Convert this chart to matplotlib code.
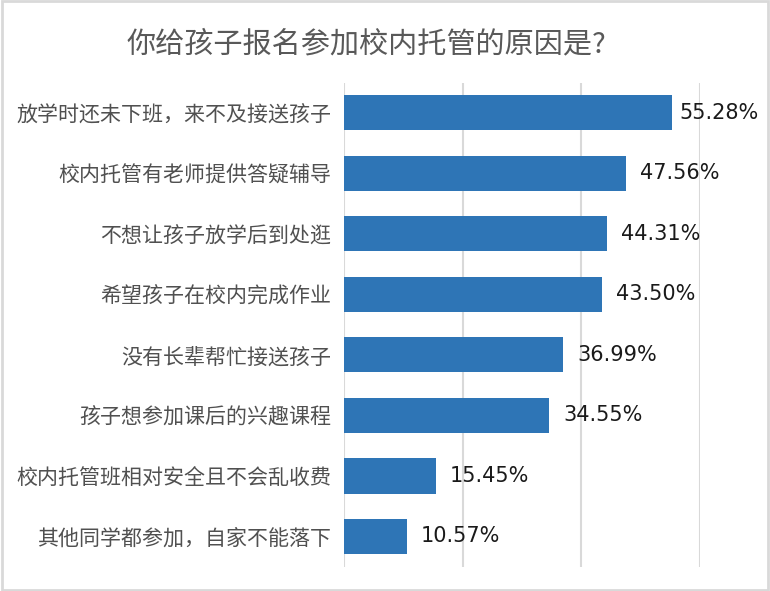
import matplotlib.pyplot as plt
from matplotlib.patches import Rectangle

plt.rcParams['font.family'] = ['Noto Sans CJK SC', 'DejaVu Sans']

categories = [
    "放学时还未下班，来不及接送孩子",
    "校内托管有老师提供答疑辅导",
    "不想让孩子放学后到处逛",
    "希望孩子在校内完成作业",
    "没有长辈帮忙接送孩子",
    "孩子想参加课后的兴趣课程",
    "校内托管班相对安全且不会乱收费",
    "其他同学都参加，自家不能落下",
]
values = [55.28, 47.56, 44.31, 43.50, 36.99, 34.55, 15.45, 10.57]
title = "你给孩子报名参加校内托管的原因是?"

fig = plt.figure(figsize=(7.7, 5.91), dpi=100)
ax = fig.add_axes([0.4468, 0.0411, 0.4623, 0.819])

y = list(range(len(categories)))[::-1]
ax.barh(y, values, height=0.58, color="#2E75B6", zorder=3)
for yi, v in zip(y, values):
    # label sits just right of the bar, pulled in when it would hit the edge
    ax.text(min(v + 2.4, 56.6), yi, f"{v:.2f}%", va="center", ha="left",
            fontsize=15, color="#1a1a1a", family="DejaVu Sans")

ax.set_xlim(0, 60)
ax.set_ylim(-0.5, len(categories) - 0.5)
ax.set_xticks([0, 20, 40, 60])
ax.xaxis.grid(True, color="#D9D9D9", linewidth=1.5, zorder=0)
ax.tick_params(axis="x", length=0, labelbottom=False)
ax.tick_params(axis="y", length=0, pad=9)
ax.set_yticks(y)
ax.set_yticklabels(categories, fontsize=15.1, color="#505050", fontweight="light")
for s in ax.spines.values():
    s.set_visible(False)

fig.text(0.476, 0.925, title, ha="center", va="center", fontsize=21,
         color="#595959", fontweight="light")
fig.patches.append(Rectangle((0.002, 0.002), 0.996, 0.996, transform=fig.transFigure,
                             fill=False, edgecolor="#D9D9D9", linewidth=2))

fig.savefig("out.png", dpi=100)
